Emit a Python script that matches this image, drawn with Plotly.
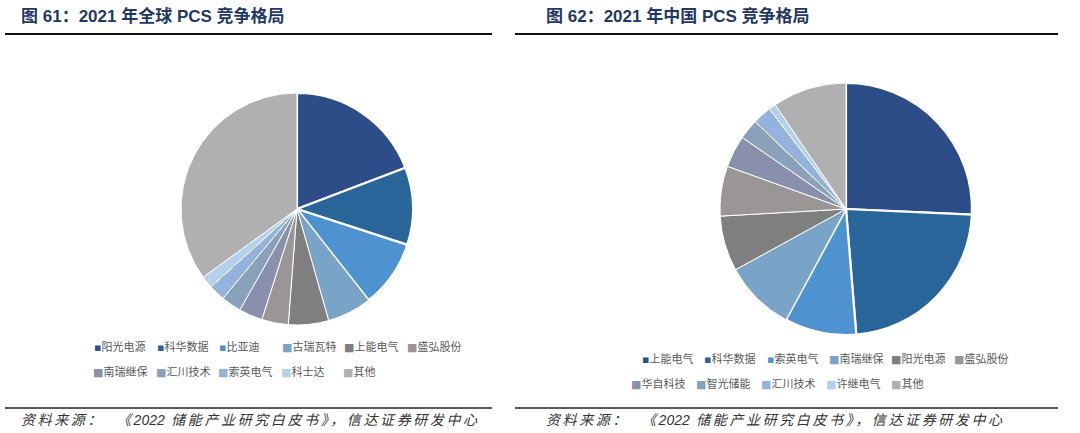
import plotly.graph_objects as go

W, H = 1080, 433

# ---------------- data ----------------
global_labels = ["阳光电源", "科华数据", "比亚迪", "古瑞瓦特", "上能电气", "盛弘股份",
                 "南瑞继保", "汇川技术", "索英电气", "科士达", "其他"]
global_share = [19.2, 10.8, 9.4, 6.2, 5.6, 3.7, 3.3, 2.8, 2.3, 1.7, 35.0]

china_labels = ["上能电气", "科华数据", "索英电气", "南瑞继保", "阳光电源", "盛弘股份",
                "华自科技", "智光储能", "汇川技术", "许继电气", "其他"]
china_share = [25.7, 23.0, 9.2, 9.1, 7.1, 6.4, 4.1, 2.6, 2.4, 0.9, 9.5]

palette = ["#2C4D87", "#296598", "#4E93D0", "#7AA3C8", "#7F7F7F", "#9A9695",
           "#8990AB", "#8AA1BB", "#93B3DE", "#B3D0EE", "#B0B0B0"]

title_left = "图 61：2021 年全球 PCS 竞争格局"
title_right = "图 62：2021 年中国 PCS 竞争格局"
source_parts = ["资料来源：  《", "2022", " 储能产业研究白皮书》，信达证券研发中心"]


def px(x):
    return x / W


def py(y):
    return 1 - y / H


def pie_domain(cx, cy, r):
    return dict(x=[px(cx - r), px(cx + r)], y=[py(cy + r), py(cy - r)])


line_w = [2.2, 2.2, 2.2] + [1.0] * 8

fig = go.Figure()
fig.add_trace(go.Pie(
    labels=global_labels, values=global_share, sort=False, direction="clockwise",
    rotation=0, textinfo="none", hoverinfo="label+percent",
    marker=dict(colors=palette, line=dict(color="white", width=line_w)),
    domain=pie_domain(297, 209, 116), showlegend=False,
))
fig.add_trace(go.Pie(
    labels=china_labels, values=china_share, sort=False, direction="clockwise",
    rotation=0, textinfo="none", hoverinfo="label+percent",
    marker=dict(colors=palette, line=dict(color="white", width=line_w)),
    domain=pie_domain(846, 209, 126), showlegend=False,
))

annotations = []
cjk = "Liberation Sans, Noto Sans CJK SC, sans-serif"

# titles
for x0, t in [(19, title_left), (544, title_right)]:
    annotations.append(dict(
        x=px(x0), y=py(16), xref="paper", yref="paper", xanchor="left", yanchor="middle",
        text="<b>" + t + "</b>", showarrow=False,
        font=dict(family=cjk, size=17, color="#1F3864"),
    ))

# sources
sp = '<span style="letter-spacing:2.6px">%s</span>'
source_html = "<i>" + sp % source_parts[0] + source_parts[1] + sp % source_parts[2] + "</i>"
for x0 in [19, 544]:
    annotations.append(dict(
        x=px(x0), y=py(420), xref="paper", yref="paper", xanchor="left", yanchor="middle",
        text=source_html, showarrow=False,
        font=dict(family=cjk, size=14, color="#333333"),
    ))


# legends (two rows each)
def legend(labels, rows):
    for i, lab in enumerate(labels):
        row = 0 if i < 6 else 1
        col = i if i < 6 else i - 6
        x0, step, yy = rows[row]
        glyph = "▪" if i < 3 else "■"
        annotations.append(dict(
            x=px(x0 + col * step), y=py(yy), xref="paper", yref="paper",
            xanchor="left", yanchor="middle", showarrow=False,
            text='<span style="color:%s;font-family:DejaVu Sans">%s</span>%s' % (palette[i], glyph, lab),
            font=dict(family="Noto Sans CJK SC", size=11, color="#595959"),
        ))


legend(global_labels, [(92, 62.5, 346), (91, 62.5, 371)])
legend(china_labels, [(640, 62.3, 358), (629, 65, 383)])

shapes = []
for x0, x1 in [(5, 492), (515, 1058)]:
    shapes.append(dict(type="line", xref="paper", yref="paper", x0=px(x0), x1=px(x1),
                       y0=py(34), y1=py(34), line=dict(color="#111111", width=2)))
    shapes.append(dict(type="line", xref="paper", yref="paper", x0=px(x0), x1=px(x1),
                       y0=py(408), y1=py(408), line=dict(color="#222222", width=1.3)))

fig.update_layout(
    width=W, height=H, margin=dict(l=0, r=0, t=0, b=0),
    paper_bgcolor="white", plot_bgcolor="white",
    annotations=annotations, shapes=shapes, showlegend=False,
)

fig.write_html("out.html", config={"displayModeBar": False},
               post_script="document.body.style.margin='0';document.body.style.overflow='hidden';")
